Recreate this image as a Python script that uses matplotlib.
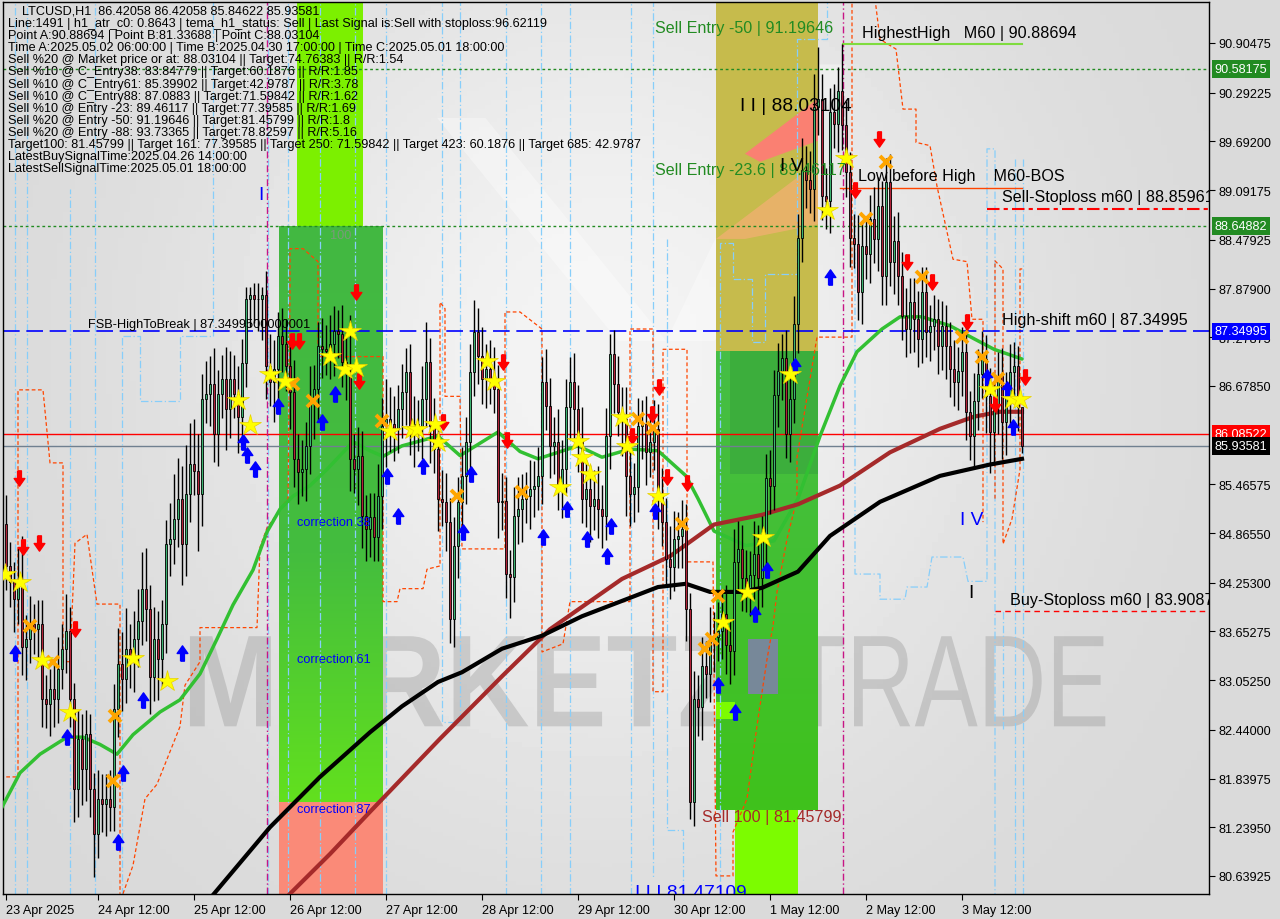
import matplotlib.pyplot as plt
import matplotlib.transforms as mtransforms
import numpy as np
from matplotlib.patches import Polygon, Rectangle, PathPatch
from matplotlib.path import Path
from matplotlib.textpath import TextPath
from matplotlib.font_manager import FontProperties

plt.rcParams['font.family'] = ['Liberation Sans', 'DejaVu Sans']

# ---- LTCUSD H1 candles, bar 0 = 23 Apr 2025 ----
first_open = 84.98
closes = [
    84.46, 84.26, 84.05, 84.23, 83.46, 83.56, 83.74, 83.68, 83.74, 82.82,
    82.76, 82.94, 82.82, 83.19, 83.44, 83.66, 82.82, 81.71, 82.33, 81.96,
    82.39, 81.71, 81.16, 81.59, 81.53, 81.59, 81.49, 82.70, 83.25, 83.07,
    83.44, 83.31, 83.56, 83.78, 84.18, 83.93, 83.09, 83.56, 83.31, 83.74,
    84.73, 84.79, 85.04, 85.29, 84.73, 85.35, 85.72, 85.63, 85.35, 86.52,
    86.58, 86.70, 86.09, 86.58, 86.76, 86.39, 86.76, 86.58, 86.30, 86.96,
    87.75, 87.80, 87.75, 87.75, 87.80, 86.92, 86.73, 86.89, 87.29, 87.20,
    86.92, 86.60, 85.78, 85.62, 85.66, 85.94, 86.48, 86.64, 87.17, 87.13,
    87.11, 87.20, 87.36, 87.32, 86.97, 86.85, 85.78, 85.66, 85.82, 85.08,
    84.92, 85.06, 84.82, 85.32, 86.18, 86.27, 86.21, 86.15, 86.39, 86.60,
    86.85, 86.18, 86.21, 86.18, 86.52, 86.97, 86.18, 85.90, 85.29, 85.25,
    85.00, 83.81, 84.71, 85.25, 85.57, 85.99, 86.85, 87.34, 87.05, 86.76,
    86.89, 86.76, 86.64, 85.25, 85.26, 84.36, 84.32, 85.08, 85.16, 85.29,
    85.32, 85.41, 85.45, 85.57, 86.73, 86.43, 85.94, 85.99, 85.45, 85.66,
    86.42, 86.73, 86.39, 86.02, 85.29, 85.41, 85.20, 85.29, 85.16, 85.08,
    86.06, 87.07, 86.70, 86.36, 86.27, 85.57, 85.35, 85.43, 86.18, 86.21,
    85.86, 85.99, 86.15, 85.32, 85.00, 84.55, 84.45, 84.79, 84.83, 84.92,
    83.93, 81.55, 82.82, 82.72, 83.23, 83.13, 83.55, 83.59, 83.66, 83.87,
    83.48, 83.41, 84.51, 84.67, 84.31, 84.19, 84.35, 84.61, 84.31, 84.77,
    85.54, 85.45, 86.57, 86.86, 87.02, 86.09, 86.52, 87.44, 88.50, 89.34,
    89.22, 89.11, 90.12, 90.22, 89.02, 88.96, 90.05, 89.91, 90.31, 89.89,
    89.31, 88.50, 88.43, 87.84, 88.40, 88.30, 88.73, 88.49, 88.90, 88.03,
    89.19, 88.21, 88.47, 88.03, 87.54, 87.38, 87.71, 87.50, 87.26, 87.84,
    87.34, 87.42, 87.50, 87.17, 87.42, 87.17, 86.89, 86.73, 86.86, 87.10,
    86.36, 86.06, 86.49, 86.83, 87.01, 86.55, 86.11, 86.43, 86.80, 86.23,
    86.55, 86.85, 86.92, 86.42, 85.94,
]
up_wick = [
    .35, .3, .25, .45, .6, .3, .35, .25, .3, .3,
    .3, .25, .35, .4, .3, .45, .3, .2, .35, .3,
    .3, .25, .2, .35, .3, .3, .35, .3, .45, .4,
    .5, .3, .35, .4, .45, .5, .3, .4, .35, .3,
    .3, .45, .55, .5, .4, .6, .5, .55, .45, .3,
    .4, .35, .45, .3, .3, .4, .35, .3, .35, .3,
    .15, .1, .15, .2, .1, .3, .4, .35, .3, .35,
    .3, .35, .4, .3, .35, .3, .45, .3, .3, .35,
    .3, .35, .3, .25, .35, .4, .7, .3, .35, .3,
    .25, .3, .3, .4, .35, .5, .4, .35, .3, .35,
    .3, .35, .35, .3, .4, .5, .3, .35, .3, .35,
    .35, .3, .35, .3, .35, .3, .35, .4, .3, .35,
    .3, .35, .4, .3, .35, .3, .3, .35, .4, .3,
    .3, .35, .3, .35, .3, .4, .35, .3, .4, .35,
    .35, .3, .35, .3, .4, .35, .3, .35, .4, .3,
    .35, .25, .3, .35, .3, .4, .35, .3, .35, .3,
    .35, .3, .35, .3, .35, .3, .4, .35, .3, .35,
    .3, .2, .35, .3, .35, .3, .4, .3, .35, .3,
    .35, .3, .4, .35, .3, .35, .3, .4, .35, .3,
    .3, .35, .3, .35, .3, .35, .3, .35, .3, .4,
    .3, .35, .4, .63, .3, .35, .3, .35, .3, .58,
    .3, .25, .3, .35, .3, .35, .3, .4, .35, .3,
    .3, .35, .3, .35, .3, .35, .3, .3, .35, .3,
    .3, .25, .3, .25, .3, .25, .3, .35, .3, .3,
    .3, .25, .35, .3, .35, .3, .35, .3, .3, .35,
    .3, .35, .3, .25, .0,
]
dn_wick = [
    .3, .3, .4, .3, .35, .4, .3, .3, .4, .35,
    .3, .4, .35, .3, .25, .3, .35, .4, .35, .45,
    .4, .35, .53, .3, .35, .4, .3, .3, .35, .4,
    .3, .35, .4, .35, .3, .4, .45, .3, .5, .35,
    .35, .4, .3, .35, .5, .4, .35, .3, .7, .4,
    .3, .4, .35, .4, .3, .5, .35, .3, .45, .35,
    .3, .35, .3, .4, .5, .4, .3, .5, .4, .35,
    .3, .45, .35, .4, .3, .4, .35, .45, .4, .35,
    .3, .35, .4, .3, .3, .35, .4, .3, .45, .4,
    .4, .35, .3, .3, .4, .5, .35, .4, .3, .35,
    .4, .35, .5, .3, .4, .35, .45, .3, .4, .3,
    .35, .3, .35, .4, .3, .35, .4, .3, .35, .3,
    .35, .3, .3, .45, .35, .3, .5, .3, .35, .4,
    .3, .4, .35, .3, .35, .3, .4, .35, .3, .4,
    .3, .4, .35, .4, .3, .35, .45, .3, .35, .4,
    .3, .4, .35, .3, .45, .5, .4, .35, .3, .4,
    .4, .3, .35, .4, .3, .35, .4, .3, .35, .4,
    .4, .21, .3, .35, .4, .3, .35, .4, .3, .35,
    .35, .4, .3, .35, .4, .3, .35, .3, .4, .35,
    .3, .35, .3, .4, .35, .3, .35, .3, .35, .3,
    .35, .3, .4, .35, .3, .35, .4, .3, .35, .3,
    .3, .35, .3, .35, .4, .3, .35, .3, .4, .35,
    .35, .3, .4, .35, .3, .35, .3, .4, .35, .3,
    .3, .35, .3, .35, .3, .4, .35, .3, .35, .3,
    .35, .3, .4, .35, .3, .45, .5, .4, .35, .45,
    .4, .35, .3, .3, .09,
]

# ---- moving averages (bar, price) ----
green_ma_x = [-1.5, 3.5, 8.5, 15.25, 19.25, 23.5, 27.75, 31.75, 38.5, 43.5, 48.5, 52.75, 56.75, 61.75,
              65.25, 68.5, 71.75, 76, 80.25, 86.75, 91, 94.25, 99, 108, 113.5, 123, 128.5, 133, 143,
              149, 156, 163, 170, 173, 177, 185, 192, 198, 203.5, 208.5, 212.75, 219, 223.5, 229,
              236, 242, 247, 254]
green_ma_y = [81.44, 81.91, 82.14, 82.35, 82.35, 82.26, 82.14, 82.38, 82.66, 82.81, 83.13, 83.56, 83.98,
              84.41, 84.88, 85.16, 85.32, 85.45, 85.65, 85.99, 85.88, 85.81, 85.94, 86.06, 85.82, 86.11,
              85.87, 85.78, 85.94, 85.80, 85.90, 85.88, 85.57, 85.29, 84.89, 84.71, 84.77, 85.29, 86.06,
              86.68, 87.10, 87.38, 87.53, 87.53, 87.42, 87.26, 87.13, 87.01]
brown_ma_x = [71, 81, 91, 108.5, 124, 136, 154, 166, 177, 189, 198, 208.5, 221, 233.5, 242, 248.5, 254]
brown_ma_y = [80.42, 80.91, 81.43, 82.33, 83.10, 83.68, 84.30, 84.58, 84.97, 85.09, 85.22, 85.45,
              85.86, 86.15, 86.30, 86.36, 86.36]
black_ma_x = [52, 66, 78.5, 91, 99, 108, 114, 124, 134, 144, 153, 163, 170, 176, 183.5, 189, 198,
              206, 218.5, 233.5, 246, 254]
black_ma_y = [80.42, 81.24, 81.86, 82.41, 82.73, 83.03, 83.15, 83.44, 83.60, 83.84, 84.01, 84.20,
              84.24, 84.14, 84.14, 84.19, 84.39, 84.83, 85.25, 85.57, 85.71, 85.78]

# ---- stepped channel lines (bar, price) ----
orange_paths = [
    [(-1.5, 81.86), (3, 81.86), (3, 86.63), (9.25, 86.63), (11, 85.73), (14.25, 85.73), (14.25, 83.28),
     (16, 83.28), (17.25, 84.74), (20.25, 84.85), (21, 84.59), (22.75, 83.99), (28.5, 83.99), (28.5, 80.42)],
    [(29.25, 80.42), (31.75, 80.77), (34.75, 81.59), (37.75, 81.77), (43.5, 82.48), (44.75, 82.99),
     (48.5, 83.28), (48.5, 83.70), (62.75, 83.70), (63.5, 84.69), (65.25, 84.93), (70.5, 85.29),
     (71, 87.79), (71, 88.37), (74.25, 88.37), (78, 88.21), (78, 87.04), (94.25, 87.04), (94.25, 84.02),
     (97.75, 84.02), (98.5, 84.18), (104.25, 84.18), (105.25, 84.42), (108.5, 84.46), (108.5, 87.71),
     (109.75, 87.63), (109.75, 86.55), (113.5, 86.55), (114, 84.67), (124.75, 84.67), (124.75, 87.59),
     (128.5, 87.59), (134, 87.38), (134, 83.40), (139.25, 83.50), (141, 84.02), (156, 84.02),
     (156, 87.38), (161.75, 87.38), (161.75, 82.91), (164.25, 82.91), (164.25, 87.13), (170.25, 87.13),
     (170.25, 84.51), (176.75, 84.51), (177.5, 80.64), (181.75, 80.64), (181.75, 81.18), (185.25, 81.59),
     (187.75, 82.49), (190.25, 83.31), (191.75, 83.72), (192.75, 84.14), (195.25, 84.79), (197.75, 85.29),
     (197.75, 85.80), (202.75, 87.28), (211.5, 87.28), (211.5, 91.45)],
    [(217.25, 91.45), (218.5, 90.95), (222.5, 90.83), (224.25, 90.09), (227.5, 90.09), (227.5, 89.68),
     (231, 89.64), (232.75, 89.14), (236.75, 88.24), (240.25, 88.21), (241.5, 87.50), (244.25, 87.50),
     (244.25, 85.0)],
    [(247.25, 85.29), (247.25, 88.22), (249.25, 88.12), (249.25, 84.73), (251.5, 85.04), (253.5, 85.65),
     (253.5, 88.12), (254.5, 88.12)],
]
blue_paths = [
    [(2.25, 80.4), (2.25, 91.45)], [(5.25, 80.4), (5.25, 91.45)], [(16, 80.4), (16, 89.10)],
    [(22.25, 80.4), (22.25, 91.45)], [(29, 80.4), (29, 87.29)],
    [(29.25, 87.29), (33.5, 87.29), (33.5, 86.49), (43.5, 86.49), (43.5, 87.29), (51.75, 87.29), (51.75, 91.45)],
    [(65.5, 80.4), (65.5, 91.45)], [(70.5, 80.4), (70.5, 91.45)], [(78.5, 80.4), (78.5, 91.45)],
    [(87.25, 80.4), (87.25, 91.45)], [(95, 80.4), (95, 91.45)],
    [(109, 91.45), (109, 82.54), (113.5, 82.54), (113.5, 91.45)],
    [(125, 80.4), (125, 91.45)], [(133.75, 80.4), (133.75, 91.45)], [(141, 80.4), (141, 91.45)],
    [(156.25, 80.4), (156.25, 91.45)], [(161.75, 91.45), (161.75, 80.6)],
    [(165.25, 88.49), (165.25, 81.2), (169.25, 81.2), (169.25, 80.4)],
    [(178.5, 80.4), (178.5, 88.44), (181.75, 88.44), (181.75, 88.00), (186.5, 88.00), (186.5, 87.22),
     (189.75, 87.22), (189.75, 88.06), (197.75, 88.06), (197.75, 90.95), (205.25, 90.95), (205.25, 91.45)],
    [(212.25, 89.0), (212.25, 84.36), (218.5, 84.36), (218.5, 84.05), (224.75, 84.05), (225.25, 84.20),
     (230.25, 84.20), (231.5, 84.57), (239.25, 84.57), (240.5, 84.27), (245.25, 84.27), (245.25, 89.60),
     (247.25, 89.60), (247.25, 80.4)],
    [(249.25, 82.45), (249.25, 83.90)], [(252.25, 80.4), (252.25, 89.48)], [(254.25, 80.4), (254.25, 89.48)],
]

# ---- signal markers (bar, price) ----
star_x = [-0.25, 3.5, 9, 16, 31.75, 40.25, 58, 61, 66, 69.75, 81, 84.75, 87.5, 86, 96, 101.5, 102.75,
          107.25, 108, 120.25, 122, 138.5, 143, 144, 146, 154, 155.25, 163, 179.25, 185.25, 189.25,
          196, 205.25, 210, 246, 251.5, 253.5]
star_y = [84.36, 84.26, 83.30, 82.66, 83.33, 83.04, 86.51, 86.20, 86.83, 86.74, 87.05, 86.89, 86.91,
          87.36, 86.12, 86.15, 86.15, 86.21, 85.99, 86.99, 86.74, 85.43, 86.00, 85.80, 85.59, 86.30,
          85.94, 85.32, 83.77, 84.14, 84.82, 86.83, 88.85, 89.49, 86.64, 86.52, 86.52]
buy_x = [2.25, 15.25, 28, 29.25, 34.25, 44, 59.25, 60.25, 62.25, 68, 79, 82.25, 95.25, 98, 104.25,
         114.25, 116.25, 134.25, 140.25, 145.25, 150.25, 151.25, 162.25, 178, 182.25, 187.25, 190.25,
         197.25, 206, 245.25, 250.25, 251.75]
buy_y = [83.39, 82.35, 81.06, 81.91, 82.81, 83.39, 85.99, 85.83, 85.65, 86.43, 86.23, 86.58, 85.57,
         85.08, 85.69, 84.88, 85.59, 84.82, 85.16, 84.79, 84.58, 84.95, 85.14, 82.99, 82.66, 83.87,
         84.41, 86.92, 88.02, 86.79, 86.64, 86.17]
sell_x = [3.25, 4.25, 8.25, 17.25, 71.5, 73.25, 87.5, 88.25, 109.25, 124.25, 125.25, 156.5, 161.5,
          163.25, 165.25, 170.25, 212.25, 218.25, 225.25, 231.5, 240.25, 247.25, 254.75]
sell_y = [85.54, 84.69, 84.74, 83.68, 87.23, 87.23, 87.84, 86.74, 86.23, 86.97, 86.01, 86.06, 86.33,
          86.67, 85.56, 85.48, 89.09, 89.72, 88.21, 87.96, 87.47, 86.46, 86.79]
cross_x = [6, 11.75, 27.25, 26.75, 71.75, 76.75, 94, 112.75, 129, 158, 161.75, 169, 178, 176.5,
           174.75, 215, 220, 229, 239, 244, 248]
cross_y = [83.72, 83.28, 82.61, 81.81, 86.70, 86.49, 86.25, 85.32, 85.37, 86.27, 86.16, 84.98, 84.09,
           83.56, 83.44, 88.74, 89.44, 88.02, 87.28, 87.03, 86.76]

# ---- levels ----
fsb_level = 87.34995
green_levels = [90.58175, 88.64882]
red_level = 86.08522
last_price = 85.93581
sell_sl = 88.85961
buy_sl = 83.9087
highest_high = 90.88694
low_before_high = 89.12

y_ticks = [90.90475, 90.29225, 89.69200, 89.09175, 88.47925, 87.87900, 87.27875, 86.67850,
           85.46575, 84.86550, 84.25300, 83.65275, 83.05250, 82.44000, 81.83975, 81.23950, 80.63925]
x_ticks = [0, 23, 47, 71, 95, 119, 143, 167, 191, 215, 239]
x_labels = ['23 Apr 2025', '24 Apr 12:00', '25 Apr 12:00', '26 Apr 12:00', '27 Apr 12:00', '28 Apr 12:00',
            '29 Apr 12:00', '30 Apr 12:00', '1 May 12:00', '2 May 12:00', '3 May 12:00']

info_lines = [
    'LTCUSD,H1  86.42058 86.42058 85.84622 85.93581',
    'Line:1491 | h1_atr_c0: 0.8643 | tema_h1_status: Sell | Last Signal is:Sell with stoploss:96.62119',
    'Point A:90.88694 | Point B:81.33688 | Point C:88.03104',
    'Time A:2025.05.02 06:00:00 | Time B:2025.04.30 17:00:00 | Time C:2025.05.01 18:00:00',
    'Sell %20 @ Market price or at: 88.03104 || Target:74.76383 || R/R:1.54',
    'Sell %10 @ C_Entry38: 83.84779 || Target:60.1876 || R/R:1.85',
    'Sell %10 @ C_Entry61: 85.39902 || Target:42.9787 || R/R:3.78',
    'Sell %10 @ C_Entry88: 87.0883 || Target:71.59842 || R/R:1.62',
    'Sell %10 @ Entry -23: 89.46117 || Target:77.39585 || R/R:1.69',
    'Sell %20 @ Entry -50: 91.19646 || Target:81.45799 || R/R:1.8',
    'Sell %20 @ Entry -88: 93.73365 || Target:78.82597 || R/R:5.16',
    'Target100: 81.45799 || Target 161: 77.39585 || Target 250: 71.59842 || Target 423: 60.1876 || Target 685: 42.9787',
    'LatestBuySignalTime:2025.04.26 14:00:00',
    'LatestSellSignalTime:2025.05.01 18:00:00',
]

# ---------------------------------------------------------------------------
fig = plt.figure(figsize=(12.8, 9.2), dpi=100, facecolor='#dadada')
ax = fig.add_axes([3 / 1280, 25 / 920, 1206 / 1280, 892 / 920])
ax.set_xlim(-0.75, 300.75)
ax.set_ylim(80.417, 91.410)

# background gradient
gx, gy = np.meshgrid(np.linspace(0, 1, 200), np.linspace(0, 1, 200))
bg = 0.845 + 0.11 * np.exp(-((gx - 0.5) ** 2 / 0.12 + (gy - 0.4) ** 2 / 0.25))
ax.imshow(bg, extent=(0, 1, 0, 1), transform=ax.transAxes, cmap='gray', vmin=0, vmax=1,
          aspect='auto', zorder=0)
# faint logo strokes behind the chart
for poly in ([(0.36, 0.87), (0.40, 0.87), (0.55, 0.62), (0.51, 0.62)],
             [(0.55, 0.62), (0.59, 0.62), (0.70, 0.93), (0.66, 0.93)]):
    ax.add_patch(Polygon(poly, closed=True, transform=ax.transAxes, fc='white', ec='none',
                         alpha=0.35, zorder=0.3))


def fit_text(s, box, weight, color, alpha):
    tp = TextPath((0, 0), s, size=100, prop=FontProperties(family='Liberation Sans', weight=weight))
    ext = tp.get_extents()
    x0, y0, x1, y1 = box
    tr = (mtransforms.Affine2D().translate(-ext.x0, -ext.y0)
          .scale((x1 - x0) / ext.width, (y1 - y0) / ext.height).translate(x0, y0))
    ax.add_patch(PathPatch(tr.transform_path(tp), transform=ax.transAxes, fc=color, ec='none',
                           alpha=alpha, zorder=0.5))


fit_text('MARKETZ', (0.155, 0.188, 0.615, 0.289), 'bold', '#8c8c8c', 0.33)
fit_text('TRADE', (0.653, 0.188, 0.914, 0.289), 'normal', '#8c8c8c', 0.33)


def vgrad(x0, x1, y0, y1, top, bottom, z=1):
    t = np.array(plt.matplotlib.colors.to_rgb(top))
    b = np.array(plt.matplotlib.colors.to_rgb(bottom))
    k = np.linspace(0, 1, 100)[:, None]
    img = (t * (1 - k) + b * k)[:, None, :]
    ax.imshow(img, extent=(x0, x1, y0, y1), aspect='auto', zorder=z, interpolation='bilinear')


# zone 1 (26 Apr)
ax.add_patch(Rectangle((72.75, green_levels[1]), 16.5, 92 - green_levels[1], fc='#7cf000', ec='none', zorder=1))
vgrad(68.25, 94.25, 84.6, green_levels[1], '#42b842', '#44bd3e')
vgrad(68.25, 94.25, 81.55, 84.6, '#44bd3e', '#62e01e')
ax.add_patch(Rectangle((68.25, 80.0), 26, 1.55, fc='#fa8a78', ec='none', zorder=1))
# zone 2 (30 Apr - 1 May)
ax.add_patch(Rectangle((177.5, 87.11), 25.5, 5, fc='#c6bb4c', ec='none', zorder=1))
vgrad(177.5, 203, 81.458, 87.11, '#46be46', '#3fc21c')
ax.add_patch(Rectangle((181, 85.59), 22, 1.52, fc='#3cae3c', ec='none', zorder=1.1))
ax.add_patch(Rectangle((182.25, 80.0), 15.75, 1.458, fc='#7cfc00', ec='none', zorder=1))
ax.add_patch(Rectangle((177.5, 82.57), 4.75, 0.21, fc='#7cfc00', ec='none', zorder=1.1))
ax.add_patch(Rectangle((185.5, 82.88), 7.5, 0.68, fc='#778899', ec='none', zorder=1.1))
ax.add_patch(Polygon([(177.5, 88.49), (203, 89.44), (203, 88.67), (184.75, 88.49)], fc='#f0b070',
                     ec='none', alpha=0.8, zorder=1.1))
ax.add_patch(Polygon([(184.75, 89.54), (203, 90.22), (203, 89.70), (188.5, 89.44)], fc='#fa8072',
                     ec='none', zorder=1.1))

# indicator lines
for p in blue_paths:
    px, py = zip(*p)
    ax.plot(px, py, color='#87cefa', lw=0.9, dashes=(6, 2, 1, 2), zorder=2)
for p in orange_paths:
    px, py = zip(*p)
    ax.plot(px, py, color='#ff4500', lw=0.9, dashes=(3, 2), zorder=2.1)
for lv in green_levels:
    ax.axhline(lv, color='#228b22', lw=1, dashes=(2, 2), zorder=2.2)
ax.axhline(fsb_level, color='#0000ff', lw=1.2, dashes=(10, 4), zorder=2.2)
ax.axhline(red_level, color='#ff0000', lw=1, zorder=2.2)
ax.axhline(last_price, color='#708090', lw=1, zorder=2.2)
for b in (65.25, 209.25):
    ax.axvline(b, color='#c71585', lw=1, dashes=(5, 2, 1, 2), zorder=2.2)
ax.plot([209.25, 254], [highest_high] * 2, color='#7fdc3f', lw=1.5, zorder=2.3)
ax.plot([208.5, 254], [low_before_high] * 2, color='#ff4500', lw=1, zorder=2.3)
ax.plot([245.25, 301], [sell_sl] * 2, color='#ff0000', lw=1.5, dashes=(6, 2, 2, 2), zorder=2.3)
ax.plot([247.25, 301], [buy_sl] * 2, color='#ff0000', lw=1, dashes=(4, 3), zorder=2.3)

# moving averages
ax.plot(green_ma_x, green_ma_y, color='#32c032', lw=2.5, zorder=3, solid_capstyle='round')
ax.plot(brown_ma_x, brown_ma_y, color='#a52a2a', lw=3, zorder=3)
ax.plot(black_ma_x, black_ma_y, color='#000000', lw=3, zorder=3)

# candles
c = np.array(closes)
o = np.r_[first_open, c[:-1]]
hi = np.maximum(o, c) + np.array(up_wick)
lo = np.minimum(o, c) - np.array(dn_wick)
bars = np.arange(len(c))
ax.vlines(bars, lo, hi, color='black', lw=1, zorder=5)
ax.bar(bars, c - o, bottom=o, width=0.7, color=np.where(c >= o, '#3cb371', '#b22238'),
       edgecolor='black', linewidth=0.6, zorder=6)

# markers
up_arrow = Path([(-0.25, -1), (0.25, -1), (0.25, 0), (0.7, 0), (0, 1), (-0.7, 0), (-0.25, 0), (-0.25, -1)])
dn_arrow = Path([(px, -py) for px, py in up_arrow.vertices])
ax.plot(buy_x, buy_y, ls='none', marker=up_arrow, ms=11, color='#0000ff', zorder=7)
ax.plot(sell_x, sell_y, ls='none', marker=dn_arrow, ms=11, color='#ff0000', zorder=7)
ax.plot(cross_x, cross_y, ls='none', marker='x', ms=8, mew=2.8, color='#ffa500', zorder=7)
ax.plot(star_x, star_y, ls='none', marker='*', ms=16, mfc='#ffff00', mec='#e8d000', mew=0.5, zorder=7.5)

# chart labels
lab = dict(fontsize=11.6, va='center', ha='left', zorder=8, clip_on=True)
ax.text(162.25, 91.10, 'Sell Entry -50 | 91.19646', color='#228b22', **lab)
ax.text(162.25, 89.35, 'Sell Entry -23.6 | 89.46117', color='#228b22', **lab)
ax.text(214, 91.04, 'HighestHigh   M60 | 90.88694', color='black', **lab)
ax.text(213, 89.27, 'Low before High    M60-BOS', color='black', **lab)
ax.text(249, 89.01, 'Sell-Stoploss m60 | 88.85961', color='black', **lab)
ax.text(249, 87.50, 'High-shift m60 | 87.34995', color='black', **lab)
ax.text(251, 84.05, 'Buy-Stoploss m60 | 83.9087', color='black', **lab)
ax.text(174, 81.37, 'Sell 100 | 81.45799', color='#a52a2a', **lab)
ax.text(20.5, 87.44, 'FSB-HighToBreak | 87.3499500000001', color='black', fontsize=9.2, va='center',
        ha='left', zorder=8)
big = dict(fontsize=13.8, va='center', ha='left', zorder=8, clip_on=True)
ax.text(183.5, 90.14, 'I I | 88.03104', color='black', **big)
ax.text(193.5, 89.39, 'I V', color='black', **big)
ax.text(63, 89.04, 'I', color='#0000ff', **big)
ax.text(238.5, 85.03, 'I V', color='#0000ff', **big)
ax.text(240.5, 84.13, 'I', color='black', **big)
ax.text(157.25, 80.44, 'I I I 81.47109', color='#0000ff', **big)
small = dict(fontsize=9.2, va='center', ha='left', zorder=8)
ax.text(72.75, 85.00, 'correction 38', color='#0000ff', **small)
ax.text(72.75, 83.31, 'correction 61', color='#0000ff', **small)
ax.text(72.75, 81.47, 'correction 87', color='#0000ff', **small)
ax.text(81, 88.54, '100', color='#7a9a7a', **small)

# info block
for i, s in enumerate(info_lines):
    ypix = 12 + 12.1 * i
    fig.text((22 if i == 0 else 8) / 1280, 1 - ypix / 920, s, fontsize=9.1, va='center', ha='left',
             color='black', zorder=9)

# axes
for sp in ax.spines.values():
    sp.set_color('black')
    sp.set_linewidth(1)
ax.yaxis.tick_right()
ax.set_yticks(y_ticks)
ax.set_yticklabels([f'{v:.5f}' for v in y_ticks])
ax.set_xticks(x_ticks)
ax.set_xticklabels(x_labels, ha='left')
ax.tick_params(axis='both', labelsize=9.1, length=4, width=0.8, color='black', pad=3)

blend = mtransforms.blended_transform_factory(ax.transAxes, ax.transData)
boxes = [(90.58175, '#228b22'), (88.64882, '#228b22'), (87.34995, '#0000ff'), (86.08522, '#ff0000'),
         (85.93581, '#000000')]
for v, col in boxes:
    ax.text(1.0045, v, f'{v:.5f}', transform=blend, fontsize=9.1, color='white', va='center', ha='left',
            bbox=dict(boxstyle='square,pad=0.22', fc=col, ec='none'), clip_on=False, zorder=10)

fig.savefig('out.png', dpi=100, facecolor=fig.get_facecolor())
